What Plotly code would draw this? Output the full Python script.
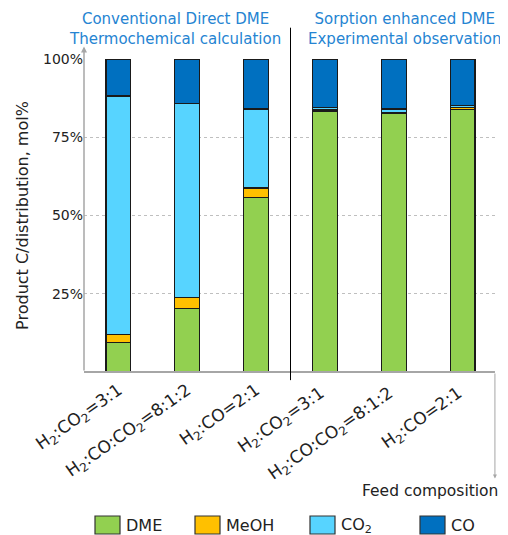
import plotly.graph_objects as go

categories = ["H<sub>2</sub>:CO<sub>2</sub>=3:1", "H<sub>2</sub>:CO:CO<sub>2</sub>=8:1:2", "H<sub>2</sub>:CO=2:1",
              "H<sub>2</sub>:CO<sub>2</sub>=3:1 ", "H<sub>2</sub>:CO:CO<sub>2</sub>=8:1:2 ", "H<sub>2</sub>:CO=2:1 "]
dme = [9.3, 20.2, 55.8, 83.4, 82.7, 83.9]
meoh = [2.6, 3.5, 3.0, 0.3, 0.3, 0.5]
co2 = [76.3, 62.2, 25.2, 0.9, 1.0, 0.7]
co = [11.8, 14.1, 16.0, 15.4, 16.0, 14.9]
series_names = ["DME", "MeOH", "CO<sub>2</sub>", "CO"]
series_values = [dme, meoh, co2, co]
colors = ["#92d050", "#ffc000", "#57d4ff", "#0070c0"]
ytick_vals = [25, 50, 75, 100]
ytick_text = ["25%", "50%", "75%", "100%"]

W, H = 500, 527
L, R, T, B = 76, 11, 51, 163
PW, PH = W - L - R, H - T - B


def px_x(fx):
    return (fx - L) / PW


def px_y(fy):
    return (H - B - fy) / PH


fig = go.Figure()
for name, vals, col in zip(series_names, series_values, colors):
    fig.add_trace(go.Bar(x=categories, y=vals, name=name, showlegend=False,
                         marker=dict(color=col, line=dict(color="#1a1a1a", width=1.2))))

font = "DejaVu Sans"
fig.update_layout(
    barmode="stack", bargap=0.64,
    width=W, height=H,
    margin=dict(l=L, r=R, t=T, b=B, autoexpand=False),
    plot_bgcolor="white", paper_bgcolor="white",
    font=dict(family=font, size=14, color="#222"),
    showlegend=False,
)
fig.update_xaxes(type="category", tickangle=-35, tickfont=dict(size=17), showline=False, ticks="",
                 automargin=False, ticklabelstandoff=4)
fig.update_yaxes(range=[0, 100], tickvals=ytick_vals, ticktext=ytick_text, showgrid=True,
                 gridcolor="#bfbfbf", griddash="dot", gridwidth=1, zeroline=False, showline=False,
                 tickfont=dict(size=14), automargin=False,
                 title=dict(text="Product C/distribution, mol%", font=dict(size=16), standoff=10))

gray = "#a6a6a6"
dx, dy = "x domain", "y domain"
# y axis line with arrow
fig.add_annotation(xref=dx, yref=dy, x=0, y=1.04, ax=0, ay=0, axref=dx, ayref=dy,
                   showarrow=True, arrowhead=2, arrowsize=0.8, arrowwidth=1.5, arrowcolor=gray, text="")
# x axis line
fig.add_shape(type="line", xref="paper", yref="paper", x0=0, x1=0.995, y0=0, y1=0, line=dict(color=gray, width=2))
# down arrow at right end
fig.add_annotation(xref=dx, yref=dy, x=0.995, y=-0.34, ax=0.995, ay=0, axref=dx, ayref=dy,
                   showarrow=True, arrowhead=2, arrowsize=0.8, arrowwidth=1, arrowcolor=gray, text="")
# divider
fig.add_shape(type="line", xref="x", yref="paper", x0=2.5, x1=2.5, y0=-0.026, y1=1.10, line=dict(color="black", width=1))

blue = "#2584d2"
fig.add_annotation(xref="paper", yref="paper", x=0.22, y=1.03, xanchor="center", yanchor="bottom", showarrow=False,
                   text="Conventional Direct DME<br>Thermochemical calculation", font=dict(size=15, color=blue))
fig.add_annotation(xref="paper", yref="paper", x=0.777, y=1.03, xanchor="center", yanchor="bottom", showarrow=False,
                   text="Sorption enhanced DME<br>Experimental observation", font=dict(size=15, color=blue))
fig.add_annotation(xref="paper", yref="paper", x=px_x(492), y=px_y(483), xanchor="right", yanchor="middle", showarrow=False,
                   text="Feed composition", font=dict(size=15.5, color="#222"))

# custom legend (swatch + label)
legend_left = [87, 187, 302, 412]
for name, col, lx in zip(series_names, colors, legend_left):
    fig.add_shape(type="rect", xref="paper", yref="paper", x0=px_x(lx), x1=px_x(lx + 25),
                  y0=px_y(526), y1=px_y(508), fillcolor=col, line=dict(color="#333", width=1.2))
    fig.add_annotation(xref="paper", yref="paper", x=px_x(lx + 29), y=px_y(517), xanchor="left", yanchor="middle",
                       showarrow=False, text=name, font=dict(size=16, color="#222"))

fig.write_html("out.html")
